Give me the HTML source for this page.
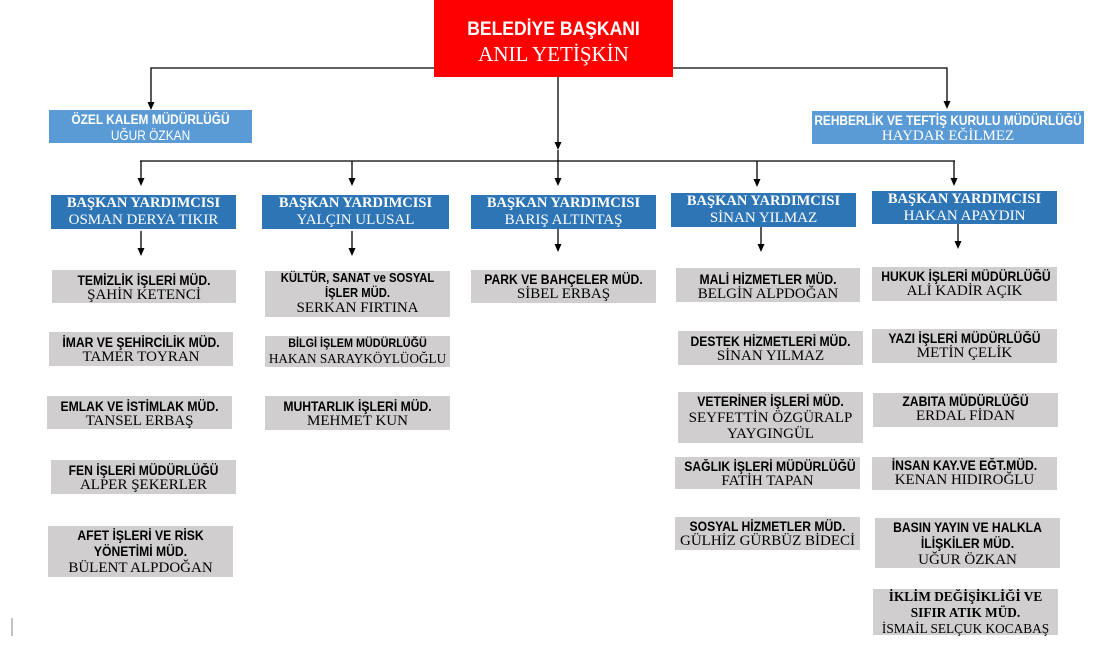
<!DOCTYPE html>
<html>
<head>
<meta charset="utf-8">
<style>
  html,body{margin:0;padding:0;}
  body{width:1114px;height:660px;position:relative;overflow:hidden;background:#fff;}
  .b{position:absolute;box-sizing:border-box;text-align:center;white-space:nowrap;}
  .g{background:#d0cece;color:#000;}
  .lb{background:#5b9bd5;color:#fff;}
  .db{background:#2e75b6;color:#fff;}
  .h{font-family:"Liberation Sans",Arial,sans-serif;font-weight:bold;font-size:13.5px;line-height:15px;transform:scaleX(.9);transform-origin:center;}
  .n{font-family:"Liberation Serif","Times New Roman",serif;font-size:15px;line-height:15px;}
  .t3 .h,.t3 .n{line-height:16px;}
  .bh{font-family:"Liberation Serif","Times New Roman",serif;font-weight:bold;font-size:14.5px;line-height:17px;}
  .bn{font-family:"Liberation Serif","Times New Roman",serif;font-size:15px;line-height:17px;}
  .sn{font-family:"Liberation Sans",Arial,sans-serif;font-size:14px;line-height:17px;transform:scaleX(.85);transform-origin:center;}
</style>
</head>
<body>

<svg width="1114" height="660" style="position:absolute;left:0;top:0" xmlns="http://www.w3.org/2000/svg">
  <g stroke="#000" stroke-width="1.3" fill="none">
    <polyline points="434,68 151,68 151,102"/>
    <polyline points="673,68 947,68 947,101"/>
    <line x1="558" y1="77" x2="558" y2="142"/>
    <line x1="140" y1="161" x2="955" y2="161"/>
    <line x1="141" y1="161" x2="141" y2="178"/>
    <line x1="352" y1="161" x2="352" y2="178"/>
    <line x1="558" y1="150" x2="558" y2="178"/>
    <line x1="757" y1="161" x2="757" y2="179"/>
    <line x1="954" y1="161" x2="954" y2="178"/>
    <line x1="141" y1="231" x2="141" y2="248"/>
    <line x1="352" y1="231" x2="352" y2="248"/>
    <line x1="558" y1="229" x2="558" y2="244"/>
    <line x1="761" y1="227" x2="761" y2="244"/>
    <line x1="958" y1="224" x2="958" y2="241"/>
  </g>
  <g fill="#000">
    <polygon points="151,110 147.5,102 154.5,102"/>
    <polygon points="947,109 943.5,101 950.5,101"/>
    <polygon points="558,150 554.5,142 561.5,142"/>
    <polygon points="141,186 137.5,178 144.5,178"/>
    <polygon points="352,186 348.5,178 355.5,178"/>
    <polygon points="558,186 554.5,178 561.5,178"/>
    <polygon points="757,187 753.5,179 760.5,179"/>
    <polygon points="954,186 950.5,178 957.5,178"/>
    <polygon points="141,256 137.5,248 144.5,248"/>
    <polygon points="352,256 348.5,248 355.5,248"/>
    <polygon points="558,252 554.5,244 561.5,244"/>
    <polygon points="761,252 757.5,244 764.5,244"/>
    <polygon points="958,249 954.5,241 961.5,241"/>
  </g>
  <line x1="12" y1="618" x2="12" y2="636" stroke="#888" stroke-width="1"/>
</svg>

<!-- Top red box -->
<div class="b" style="left:434px;top:0;width:239px;height:77px;background:#ff0000;color:#fff;padding-top:18px;">
  <div style="font-family:'Liberation Sans',Arial,sans-serif;font-weight:bold;font-size:19.5px;line-height:22px;transform:scaleX(.9);">BELEDİYE BAŞKANI</div>
  <div style="font-family:'Liberation Serif','Times New Roman',serif;font-size:21px;line-height:28px;">ANIL YETİŞKİN</div>
</div>

<!-- Light blue boxes -->
<div class="b lb" style="left:49px;top:110px;width:203px;height:33px;padding-top:2px;">
  <div class="h" style="transform:scaleX(.88)">ÖZEL KALEM MÜDÜRLÜĞÜ</div>
  <div class="sn">UĞUR ÖZKAN</div>
</div>
<div class="b lb" style="left:812px;top:111px;width:272px;height:33px;padding-top:2px;">
  <div class="h" style="margin:0 -40px;transform:scaleX(.88)">REHBERLİK VE TEFTİŞ KURULU MÜDÜRLÜĞÜ</div>
  <div class="bn">HAYDAR EĞİLMEZ</div>
</div>

<!-- Dark blue deputy boxes -->
<div class="b db" style="left:51px;top:195px;width:185px;height:34px;">
  <div class="bh">BAŞKAN YARDIMCISI</div><div class="bn">OSMAN DERYA TIKIR</div>
</div>
<div class="b db" style="left:262px;top:195px;width:187px;height:34px;">
  <div class="bh">BAŞKAN YARDIMCISI</div><div class="bn">YALÇIN ULUSAL</div>
</div>
<div class="b db" style="left:471px;top:195px;width:185px;height:34px;">
  <div class="bh">BAŞKAN YARDIMCISI</div><div class="bn">BARIŞ ALTINTAŞ</div>
</div>
<div class="b db" style="left:671px;top:193px;width:185px;height:34px;">
  <div class="bh">BAŞKAN YARDIMCISI</div><div class="bn">SİNAN YILMAZ</div>
</div>
<div class="b db" style="left:872px;top:191px;width:185px;height:33px;">
  <div class="bh">BAŞKAN YARDIMCISI</div><div class="bn">HAKAN APAYDIN</div>
</div>

<!-- Column 1 -->
<div class="b g" style="left:52px;top:270px;width:184px;height:33px;padding-top:3px;">
  <div class="h">TEMİZLİK İŞLERİ MÜD.</div><div class="n">ŞAHİN KETENCİ</div>
</div>
<div class="b g" style="left:49px;top:332px;width:184px;height:34px;padding-top:3px;">
  <div class="h">İMAR VE ŞEHİRCİLİK MÜD.</div><div class="n">TAMER TOYRAN</div>
</div>
<div class="b g" style="left:47px;top:396px;width:185px;height:33px;padding-top:3px;">
  <div class="h">EMLAK VE İSTİMLAK MÜD.</div><div class="n">TANSEL ERBAŞ</div>
</div>
<div class="b g" style="left:51px;top:460px;width:185px;height:34px;padding-top:3px;">
  <div class="h">FEN İŞLERİ MÜDÜRLÜĞÜ</div><div class="n">ALPER ŞEKERLER</div>
</div>
<div class="b g t3" style="left:48px;top:526px;width:185px;height:51px;padding-top:2px;">
  <div class="h">AFET İŞLERİ VE RİSK</div><div class="h">YÖNETİMİ MÜD.</div><div class="n">BÜLENT ALPDOĞAN</div>
</div>

<!-- Column 2 -->
<div class="b g" style="left:265px;top:271px;width:185px;height:46px;padding-top:0;">
  <div class="h" style="font-size:12.5px">KÜLTÜR, SANAT ve SOSYAL</div>
  <div class="h" style="font-size:12.5px">İŞLER MÜD.</div>
  <div class="n">SERKAN FIRTINA</div>
</div>
<div class="b g" style="left:265px;top:336px;width:185px;height:31px;padding-top:0;">
  <div class="h" style="font-size:12px">BİLGİ İŞLEM MÜDÜRLÜĞÜ</div>
  <div class="n" style="font-size:13.2px;line-height:16px;">HAKAN SARAYKÖYLÜOĞLU</div>
</div>
<div class="b g" style="left:265px;top:396px;width:185px;height:34px;padding-top:3px;">
  <div class="h">MUHTARLIK İŞLERİ MÜD.</div><div class="n">MEHMET KUN</div>
</div>

<!-- Column 3 -->
<div class="b g" style="left:471px;top:270px;width:185px;height:33px;padding-top:2px;">
  <div class="h">PARK VE BAHÇELER MÜD.</div><div class="n">SİBEL ERBAŞ</div>
</div>

<!-- Column 4 -->
<div class="b g" style="left:676px;top:268px;width:184px;height:34px;padding-top:4px;">
  <div class="h">MALİ HİZMETLER MÜD.</div><div class="n">BELGİN ALPDOĞAN</div>
</div>
<div class="b g" style="left:678px;top:331px;width:185px;height:34px;padding-top:3px;">
  <div class="h">DESTEK HİZMETLERİ MÜD.</div><div class="n">SİNAN YILMAZ</div>
</div>
<div class="b g t3" style="left:678px;top:392px;width:185px;height:51px;padding-top:2px;">
  <div class="h">VETERİNER İŞLERİ MÜD.</div><div class="n">SEYFETTİN ÖZGÜRALP</div><div class="n">YAYGINGÜL</div>
</div>
<div class="b g" style="left:675px;top:457px;width:185px;height:32px;padding-top:2px;">
  <div class="h">SAĞLIK İŞLERİ MÜDÜRLÜĞÜ</div><div class="n">FATİH TAPAN</div>
</div>
<div class="b g" style="left:675px;top:517px;width:185px;height:33px;padding-top:2px;">
  <div class="h">SOSYAL HİZMETLER MÜD.</div><div class="n">GÜLHİZ GÜRBÜZ BİDECİ</div>
</div>

<!-- Column 5 -->
<div class="b g" style="left:872px;top:267px;width:185px;height:34px;padding-top:2px;">
  <div class="h">HUKUK İŞLERİ MÜDÜRLÜĞÜ</div><div class="n">ALİ KADİR AÇIK</div>
</div>
<div class="b g" style="left:872px;top:329px;width:185px;height:34px;padding-top:2px;">
  <div class="h">YAZI İŞLERİ MÜDÜRLÜĞÜ</div><div class="n">METİN ÇELİK</div>
</div>
<div class="b g" style="left:873px;top:393px;width:185px;height:34px;padding-top:1px;">
  <div class="h">ZABITA MÜDÜRLÜĞÜ</div><div class="n">ERDAL FİDAN</div>
</div>
<div class="b g" style="left:872px;top:457px;width:185px;height:33px;padding-top:1px;">
  <div class="h">İNSAN KAY.VE EĞT.MÜD.</div><div class="n">KENAN HIDIROĞLU</div>
</div>
<div class="b g t3" style="left:875px;top:518px;width:185px;height:50px;padding-top:2px;">
  <div class="h">BASIN YAYIN VE HALKLA</div><div class="h">İLİŞKİLER MÜD.</div><div class="n">UĞUR ÖZKAN</div>
</div>
<div class="b g" style="left:873px;top:589px;width:185px;height:46px;padding-top:0;">
  <div style="font-family:'Liberation Serif','Times New Roman',serif;font-weight:bold;font-size:13.3px;line-height:16px;">İKLİM DEĞİŞİKLİĞİ VE</div>
  <div style="font-family:'Liberation Serif','Times New Roman',serif;font-weight:bold;font-size:13.3px;line-height:16px;">SIFIR ATIK MÜD.</div>
  <div style="font-family:'Liberation Serif','Times New Roman',serif;font-size:13.3px;line-height:16px;">İSMAİL SELÇUK KOCABAŞ</div>
</div>

</body>
</html>
